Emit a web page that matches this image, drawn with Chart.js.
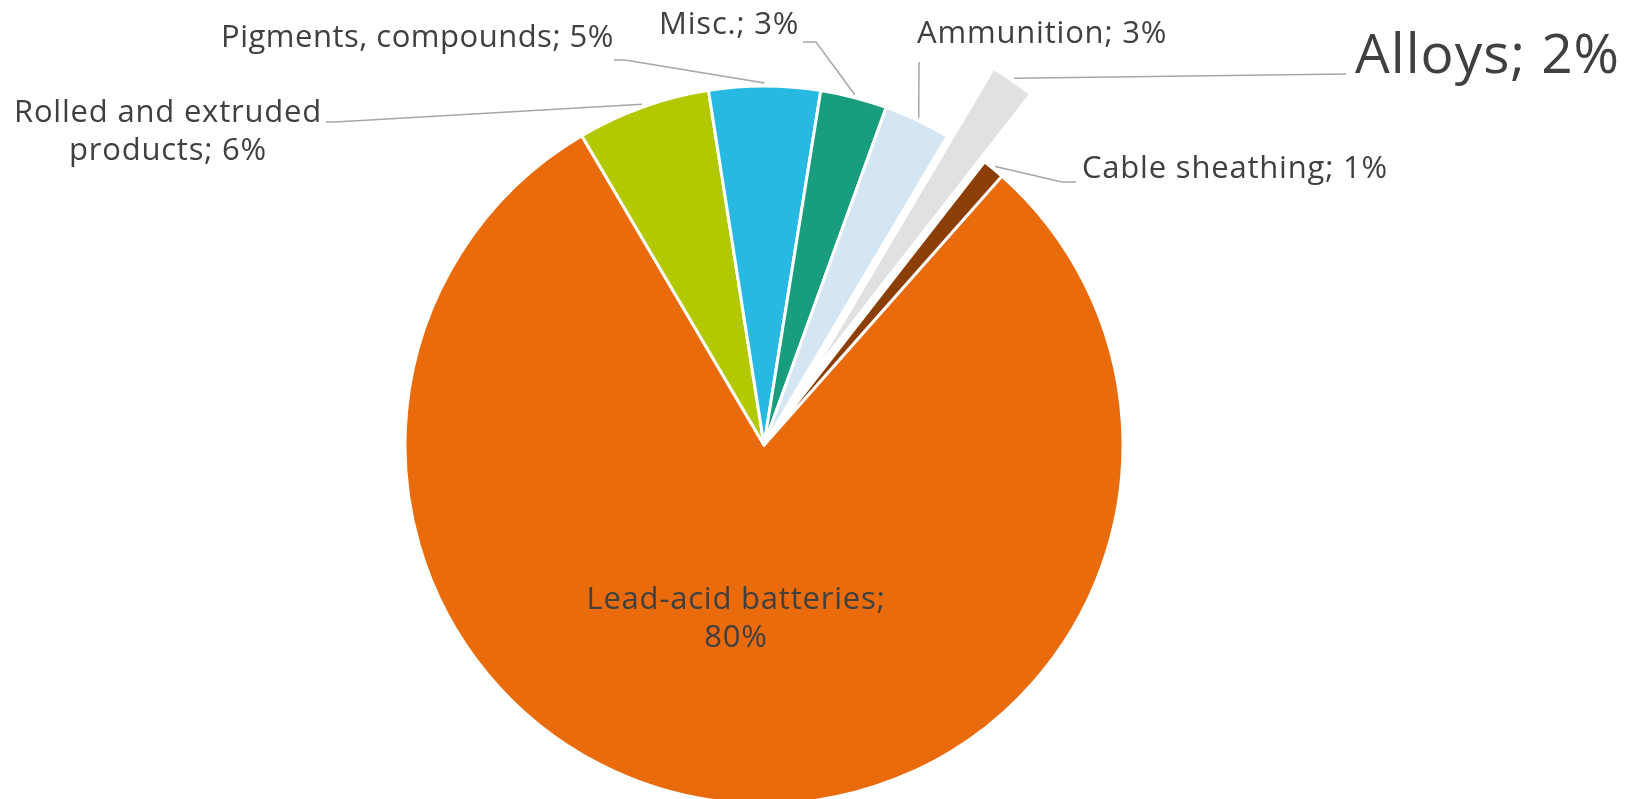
<!DOCTYPE html>
<html>
<head>
<meta charset="utf-8">
<title>Lead end uses</title>
<script src="https://cdn.jsdelivr.net/npm/chart.js@4.4.1/dist/chart.umd.min.js"></script>
<style>
  html, body { margin: 0; padding: 0; background: #fff; }
  canvas { display: block; }
</style>
</head>
<body>
<canvas id="pie" width="1634" height="799"></canvas>
<script>
// ---------- data ----------
const categories = ["Lead-acid batteries", "Rolled and extruded products", "Pigments, compounds", "Misc.", "Ammunition", "Alloys", "Cable sheathing"];
const shares = [80, 6, 5, 3, 3, 2, 1];

// ---------- styling / layout ----------
const sliceColors = ["#e96b0b", "#b2c800", "#28b9e2", "#189e7e", "#d4e5f3", "#e0e1e0", "#8b3f06"];
const explodeIndex = 5;
const explodePx = 82;
const textColor = "#404040";
const leaderColor = "#a6a6a6";

// where each label sits (x, first baseline), how it wraps, and the leader path after the slice edge
const labelLayout = [
  { x: 736, y: 609, align: "center", size: 31, sp: 0.8, lh: 38, wrap: 330 },
  { x: 168, y: 122, align: "center", size: 31, sp: 0.8, lh: 38, wrap: 330, path: [[335, 122], [326, 122]] },
  { x: 221, y: 47, align: "left", size: 31, sp: 0.5, lh: 38, wrap: 900, path: [[625, 60], [614, 60]] },
  { x: 659, y: 34, align: "left", size: 31, sp: 0.8, lh: 38, wrap: 900, path: [[816, 42], [803, 42]] },
  { x: 917, y: 43, align: "left", size: 31, sp: 0.8, lh: 38, wrap: 900, path: [[919, 62]] },
  { x: 1355, y: 73, align: "left", size: 55, sp: 1.0, lh: 60, wrap: 900, path: [[1346, 74]] },
  { x: 1082, y: 178, align: "left", size: 31, sp: 0.8, lh: 38, wrap: 900, path: [[1062, 182], [1076, 182]] }
];

const FONT = '"Open Sans", "Noto Sans", sans-serif';

function wrapText(ctx, text, maxW) {
  const words = text.split(" ");
  const lines = [];
  let cur = "";
  words.forEach(w => {
    const t = cur ? cur + " " + w : w;
    if (cur && ctx.measureText(t).width > maxW) { lines.push(cur); cur = w; }
    else cur = t;
  });
  if (cur) lines.push(cur);
  return lines;
}

// pull the Alloys slice away from the centre, keeping its radius
const explode = {
  id: "explode",
  afterDatasetUpdate(chart, args) {
    const arc = args.meta.data[explodeIndex];
    if (!arc) return;
    const mid = (arc.startAngle + arc.endAngle) / 2;
    arc.x += Math.cos(mid) * explodePx;
    arc.y += Math.sin(mid) * explodePx;
  }
};

const sliceLabels = {
  id: "sliceLabels",
  afterDatasetsDraw(chart) {
    const ctx = chart.ctx;
    const arcs = chart.getDatasetMeta(0).data;
    ctx.save();
    arcs.forEach((arc, i) => {
      const L = labelLayout[i];
      if (!L) return;
      if (L.path) {
        const mid = (arc.startAngle + arc.endAngle) / 2;
        const r = arc.outerRadius + 3;
        ctx.beginPath();
        ctx.moveTo(arc.x + Math.cos(mid) * r, arc.y + Math.sin(mid) * r);
        L.path.forEach(p => ctx.lineTo(p[0], p[1]));
        ctx.strokeStyle = leaderColor;
        ctx.lineWidth = 1.5;
        ctx.stroke();
      }
      ctx.font = L.size + "px " + FONT;
      ctx.letterSpacing = L.sp + "px";
      ctx.fillStyle = textColor;
      ctx.textAlign = L.align;
      ctx.textBaseline = "alphabetic";
      const lines = wrapText(ctx, categories[i] + "; " + shares[i] + "%", L.wrap);
      lines.forEach((ln, k) => ctx.fillText(ln, L.x, L.y + k * L.lh));
    });
    ctx.restore();
  }
};

new Chart(document.getElementById("pie"), {
  type: "pie",
  data: {
    labels: categories,
    datasets: [{
      data: shares,
      backgroundColor: sliceColors,
      borderColor: "#ffffff",
      borderWidth: 3,
      borderJoinStyle: "round",
      radius: 359,
      clip: false
    }]
  },
  options: {
    responsive: false,
    animation: false,
    rotation: 41.5,
    layout: { padding: { left: 0, right: 106, top: 91, bottom: 0 } },
    plugins: { legend: { display: false }, tooltip: { enabled: false } },
    events: []
  },
  plugins: [explode, sliceLabels]
});
</script>
</body>
</html>
